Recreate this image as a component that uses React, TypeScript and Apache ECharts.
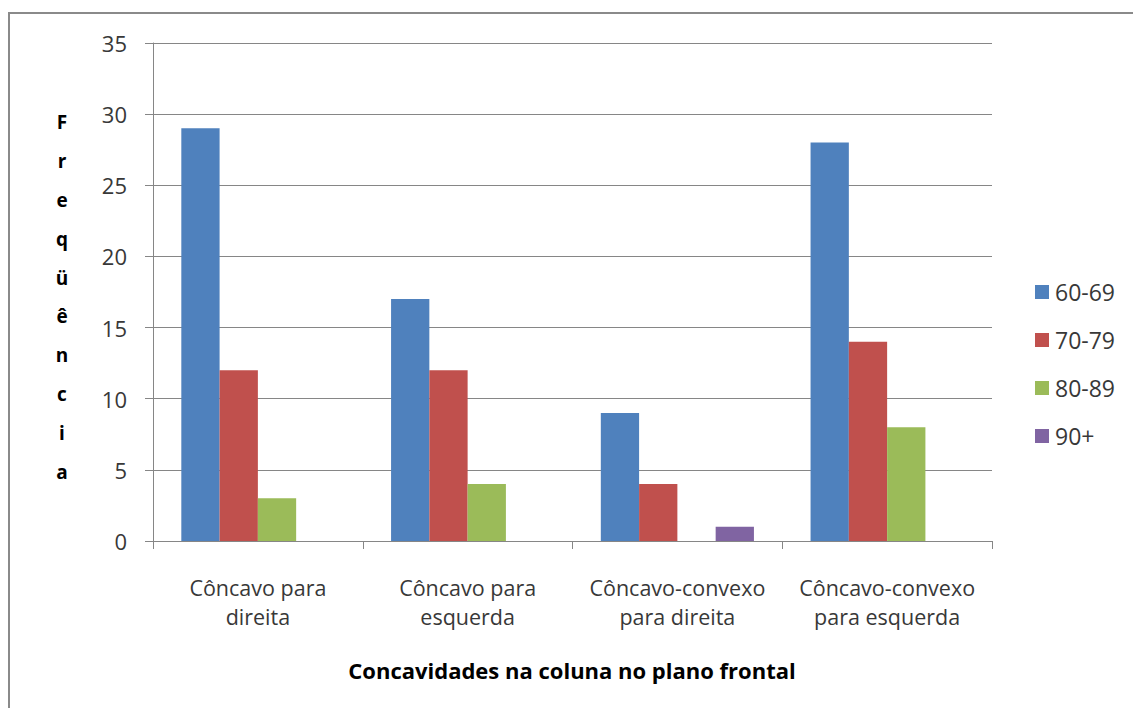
import React, { useEffect, useRef } from "react";
import * as echarts from "echarts";

// Concavidades na coluna no plano frontal, por faixa etária
const categories = [
  "Côncavo para\ndireita",
  "Côncavo para\nesquerda",
  "Côncavo-convexo\npara direita",
  "Côncavo-convexo\npara esquerda",
];
const seriesNames = ["60-69", "70-79", "80-89", "90+"];
const values6069 = [29, 17, 9, 28];
const values7079 = [12, 12, 4, 14];
const values8089 = [3, 4, null, 8];
const values90 = [null, null, 1, null];
const colors = ["#4F81BD", "#C0504D", "#9BBB59", "#8064A2"];
const yTicks = { min: 0, max: 35, interval: 5 };

const FONT = "'Open Sans', 'DejaVu Sans', sans-serif";

export default function App() {
  const ref = useRef<HTMLDivElement>(null);

  useEffect(() => {
    if (!ref.current) return;
    const chart = echarts.init(ref.current, undefined, { renderer: "svg" });
    const data = [values6069, values7079, values8089, values90];

    chart.setOption({
      animation: false,
      backgroundColor: "#ffffff",
      textStyle: { fontFamily: FONT },
      grid: { left: 153, top: 43, right: 141, bottom: 167, containLabel: false },
      legend: {
        orient: "vertical",
        left: 1035,
        top: 280,
        padding: 0,
        itemWidth: 14,
        itemHeight: 14,
        itemGap: 24,
        icon: "rect",
        textStyle: { fontFamily: FONT, fontSize: 23, color: "#383838", lineHeight: 24, padding: [0, 0, 0, 1] },
        data: seriesNames,
      },
      xAxis: {
        type: "category",
        data: categories,
        axisLine: { show: true, lineStyle: { color: "#868686", width: 1 } },
        axisTick: { show: true, length: 8, lineStyle: { color: "#868686" } },
        axisLabel: {
          margin: 32,
          fontFamily: FONT,
          fontSize: 21.5,
          lineHeight: 29,
          color: "#383838",
          interval: 0,
        },
      },
      yAxis: {
        type: "value",
        min: yTicks.min,
        max: yTicks.max,
        interval: yTicks.interval,
        axisLine: { show: true, lineStyle: { color: "#868686", width: 1 } },
        axisTick: { show: true, length: 8, lineStyle: { color: "#868686" } },
        splitLine: { show: true, lineStyle: { color: "#868686", width: 1 } },
        axisLabel: { margin: 26, fontFamily: FONT, fontSize: 22, color: "#383838" },
      },
      series: seriesNames.map((name, i) => ({
        name,
        type: "bar",
        data: data[i],
        barGap: "0%",
        barCategoryGap: "27%",
        itemStyle: { color: colors[i] },
      })),
      graphic: [
        {
          type: "rect",
          shape: { x: 9, y: 13, width: 1200, height: 800 },
          style: { fill: "none", stroke: "#8a8a8a", lineWidth: 2 },
          silent: true,
        },
        {
          type: "text",
          x: 62,
          y: 297,
          style: {
            text: "F\nr\ne\nq\nü\nê\nn\nc\ni\na",
            fontFamily: FONT,
            fontSize: 19,
            fontWeight: "bold",
            lineHeight: 38.9,
            fill: "#000000",
            align: "center",
            verticalAlign: "middle",
          },
        },
        {
          type: "text",
          x: 572,
          y: 670,
          style: {
            text: "Concavidades na coluna no plano frontal",
            fontFamily: FONT,
            fontSize: 22,
            fontWeight: "bold",
            fill: "#000000",
            align: "center",
            verticalAlign: "middle",
          },
        },
      ],
    });

    return () => chart.dispose();
  }, []);

  return (
    <div
      ref={ref}
      style={{ position: "absolute", left: 0, top: 0, width: 1133, height: 708 }}
    />
  );
}
